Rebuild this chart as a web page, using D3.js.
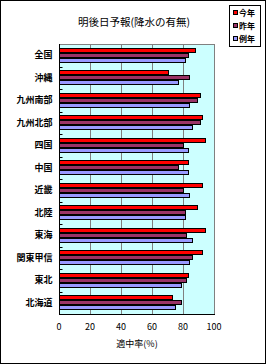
<!DOCTYPE html>
<html lang="ja">
<head>
  <meta charset="utf-8">
  <title>明後日予報(降水の有無)</title>
  <script src="https://cdn.jsdelivr.net/npm/d3@7"></script>
  <style>
    body { margin: 0; background: #fff; }
    svg { display: block; font-family: "Noto Sans CJK JP", sans-serif; }
  </style>
</head>
<body>
  <script>
    // Data
    var regions = ["全国", "沖縄", "九州南部", "九州北部", "四国", "中国", "近畿", "北陸", "東海", "関東甲信", "東北", "北海道"];
    var seriesNames = ["今年", "昨年", "例年"];
    var thisYear = [87.5, 70, 91, 92.5, 94.5, 83.5, 92.5, 89, 94.5, 92.5, 83.5, 73];
    var lastYear = [83.5, 84, 89, 91, 80, 77, 80, 81.5, 82, 86, 82, 79];
    var normal = [81.5, 76.5, 84, 85.5, 83.5, 83.5, 84, 81.5, 85.5, 84, 79, 75];
    var xTicks = [0, 20, 40, 60, 80, 100];
    var colors = ["#ff0000", "#993366", "#9999ff"];

    var width = 266, height = 364;
    // plot area (note: "top" is reserved on window, so use plot* names)
    var plotL = 59, plotR = 214, plotT = 44, plotB = 314;

    var svg = d3.select("body").append("svg")
      .attr("width", width)
      .attr("height", height);

    // outer frame
    svg.append("rect")
      .attr("x", 0.5).attr("y", 0.5)
      .attr("width", width - 1).attr("height", height - 1)
      .attr("fill", "white").attr("stroke", "black");

    // title
    svg.append("text")
      .attr("x", 134).attr("y", 26)
      .attr("text-anchor", "middle")
      .attr("font-size", 10.5)
      .text("明後日予報(降水の有無)");

    var x = d3.scaleLinear().domain([0, 100]).range([plotL, plotR]);
    var y = d3.scaleBand().domain(regions).range([plotT, plotB])
      .paddingInner(0.33).paddingOuter(0.165);
    var ySub = d3.scaleBand().domain(seriesNames).range([0, y.bandwidth()]);

    // plot background
    svg.append("rect")
      .attr("x", plotL + 0.5).attr("y", plotT + 0.5)
      .attr("width", plotR - plotL).attr("height", plotB - plotT)
      .attr("fill", "#ccffff").attr("stroke", "#808080");

    // grid lines
    svg.append("g").selectAll("line")
      .data(xTicks.slice(1, -1))
      .enter().append("line")
      .attr("x1", function(d) { return Math.round(x(d)) + 0.5; })
      .attr("x2", function(d) { return Math.round(x(d)) + 0.5; })
      .attr("y1", plotT).attr("y2", plotB)
      .attr("stroke", "#808080");

    // bars
    var series = [thisYear, lastYear, normal];
    var rows = [];
    regions.forEach(function(r, i) {
      seriesNames.forEach(function(s, j) {
        rows.push({ region: r, name: s, value: series[j][i], color: colors[j] });
      });
    });

    svg.append("g").selectAll("rect")
      .data(rows)
      .enter().append("rect")
      .attr("x", x(0) + 0.5)
      .attr("y", function(d) { return Math.round(y(d.region) + ySub(d.name)) + 0.5; })
      .attr("width", function(d) { return Math.round(x(d.value) - x(0)); })
      .attr("height", Math.round(ySub.bandwidth()) - 1)
      .attr("fill", function(d) { return d.color; })
      .attr("stroke", "black")
      .attr("stroke-width", 1);

    // y axis
    var yAxis = svg.append("g").attr("transform", "translate(" + (plotL + 0.5) + ",0)");
    yAxis.append("line").attr("y1", plotT).attr("y2", plotB + 1).attr("stroke", "black");
    // small ticks at category boundaries
    yAxis.selectAll(".tk")
      .data(regions.slice(1))
      .enter().append("line")
      .attr("class", "tk")
      .attr("x1", 0).attr("x2", 3)
      .attr("y1", function(d) { return Math.round(y(d) - y.step() * y.paddingInner() / 2) + 0.5; })
      .attr("y2", function(d) { return Math.round(y(d) - y.step() * y.paddingInner() / 2) + 0.5; })
      .attr("stroke", "black");
    yAxis.selectAll("text")
      .data(regions)
      .enter().append("text")
      .attr("x", -7)
      .attr("y", function(d) { return y(d) + y.bandwidth() / 2; })
      .attr("dy", "0.35em")
      .attr("text-anchor", "end")
      .attr("font-size", 9)
      .attr("font-weight", "bold")
      .text(function(d) { return d; });

    // x axis
    var xAxis = svg.append("g").attr("transform", "translate(0," + (plotB + 0.5) + ")");
    xAxis.append("line").attr("x1", plotL).attr("x2", plotR + 1).attr("stroke", "black");
    xAxis.selectAll("text")
      .data(xTicks)
      .enter().append("text")
      .attr("x", function(d) { return x(d); })
      .attr("y", 15)
      .attr("text-anchor", "middle")
      .attr("font-size", 9)
      .text(function(d) { return d; });

    svg.append("text")
      .attr("x", 137).attr("y", 347)
      .attr("text-anchor", "middle")
      .attr("font-size", 9)
      .text("適中率(%)");

    // legend
    var legend = svg.append("g");
    legend.append("rect")
      .attr("x", 229.5).attr("y", 5.5)
      .attr("width", 31).attr("height", 41)
      .attr("fill", "white").attr("stroke", "black");
    var items = legend.selectAll(".item")
      .data(seriesNames)
      .enter().append("g")
      .attr("class", "item")
      .attr("transform", function(d, i) { return "translate(233," + (13 + i * 13) + ")"; });
    items.append("rect")
      .attr("x", 0.5).attr("y", -2.5)
      .attr("width", 4).attr("height", 4)
      .attr("fill", function(d, i) { return colors[i]; })
      .attr("stroke", "black");
    items.append("text")
      .attr("x", 6).attr("y", 0)
      .attr("dy", "0.35em")
      .attr("font-size", 8)
      .attr("font-weight", "bold")
      .text(function(d) { return d; });
  </script>
</body>
</html>
